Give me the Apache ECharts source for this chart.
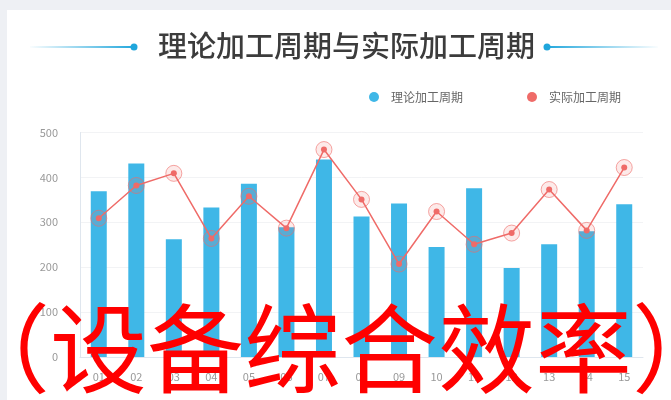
<!DOCTYPE html>
<html>
<head>
<meta charset="utf-8">
<style>
  html, body { margin: 0; padding: 0; background: #eef0f4; }
  #chart { width: 671px; height: 400px; }
</style>
<script src="https://cdn.jsdelivr.net/npm/echarts@6/dist/echarts.min.js"></script>
</head>
<body>
<div id="chart"></div>
<script>
// 工序编号
const categories = ['01', '02', '03', '04', '05', '06', '07', '08', '09', '10', '11', '12', '13', '14', '15'];
// 理论加工周期
const theoryCycle = [369, 431, 262, 333, 386, 289, 440, 313, 342, 245, 376, 198, 251, 280, 340];
// 实际加工周期
const actualCycle = [309, 382, 409, 264, 358, 287, 462, 351, 207, 324, 251, 276, 373, 282, 422];
const yTicks = { min: 0, max: 500, interval: 100 };

const blue = '#3fb7e7';
const red = '#ef6b68';
const font = '"Noto Sans CJK SC", "Noto Sans", sans-serif';

const chart = echarts.init(document.getElementById('chart'));
chart.setOption({
  backgroundColor: '#eef0f4',
  animation: false,
  textStyle: { fontFamily: font },
  graphic: [
    // 白色卡片
    { type: 'rect', left: 7, top: 10, z: -10, shape: { width: 664, height: 390 }, style: { fill: '#ffffff' } },
    // 标题两侧装饰线
    {
      type: 'line', z: 5, shape: { x1: 30, y1: 47, x2: 134, y2: 47 },
      style: {
        lineWidth: 2,
        stroke: new echarts.graphic.LinearGradient(0, 0, 1, 0, [
          { offset: 0, color: 'rgba(31,166,220,0)' },
          { offset: 1, color: '#1fa6dc' }
        ])
      }
    },
    { type: 'circle', z: 6, shape: { cx: 134, cy: 47, r: 3.5 }, style: { fill: '#1fa6dc' } },
    {
      type: 'line', z: 5, shape: { x1: 547, y1: 47, x2: 658, y2: 47 },
      style: {
        lineWidth: 2,
        stroke: new echarts.graphic.LinearGradient(0, 0, 1, 0, [
          { offset: 0, color: '#1fa6dc' },
          { offset: 1, color: 'rgba(31,166,220,0)' }
        ])
      }
    },
    { type: 'circle', z: 6, shape: { cx: 547, cy: 47, r: 3.5 }, style: { fill: '#1fa6dc' } },
    // 红色说明文字
    {
      type: 'text', z: 100, x: 341, y: 348,
      style: {
        text: '（设备综合效率）',
        fill: '#ff0000',
        font: '400 97px "Noto Sans CJK SC", sans-serif',
        textAlign: 'center',
        textVerticalAlign: 'middle'
      }
    }
  ],
  title: {
    text: '理论加工周期与实际加工周期',
    left: 158,
    top: 31,
    padding: 0,
    textStyle: { fontSize: 29, fontWeight: 500, color: '#3c3c3c', fontFamily: font }
  },
  legend: {
    data: ['理论加工周期', '实际加工周期'],
    right: 50,
    top: 91,
    padding: 0,
    icon: 'circle',
    itemWidth: 10,
    itemHeight: 10,
    itemGap: 64,
    textStyle: { fontSize: 12, color: '#666', fontFamily: font, padding: [0, 0, 0, 7] }
  },
  grid: { left: 80, right: 28, top: 132.5, bottom: 43 },
  xAxis: {
    type: 'category',
    data: categories,
    axisLine: { lineStyle: { color: '#dfe6ee' } },
    axisTick: { show: false },
    axisLabel: { color: '#999', fontSize: 11, margin: 14 }
  },
  yAxis: {
    type: 'value',
    min: yTicks.min,
    max: yTicks.max,
    interval: yTicks.interval,
    axisLine: { show: true, lineStyle: { color: '#dfe6ee' } },
    axisTick: { show: false },
    axisLabel: { color: '#999', fontSize: 11, margin: 22 },
    splitLine: { lineStyle: { color: '#f2f3f5' } }
  },
  series: [
    {
      name: '理论加工周期',
      type: 'bar',
      data: theoryCycle,
      barWidth: 16,
      itemStyle: { color: blue }
    },
    {
      name: '实际加工周期',
      type: 'line',
      data: actualCycle,
      symbol: 'circle',
      symbolSize: 6,
      z: 4,
      lineStyle: { color: red, width: 1.5 },
      itemStyle: { color: red }
    },
    {
      name: '实际加工周期-光圈',
      type: 'scatter',
      data: actualCycle,
      symbolSize: 16,
      z: 3,
      itemStyle: { color: 'rgba(239,107,104,0.18)', borderColor: 'rgba(239,107,104,0.75)', borderWidth: 1 }
    }
  ]
});
</script>
</body>
</html>
